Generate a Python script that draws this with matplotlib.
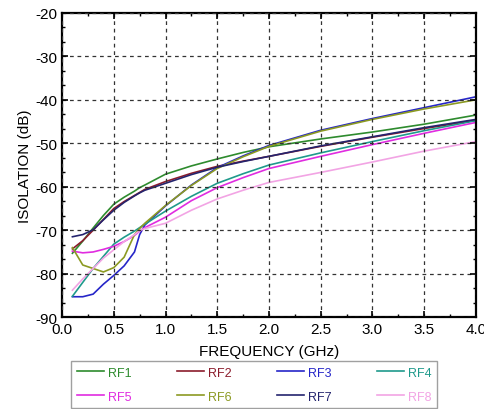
import numpy as np
from matplotlib import pyplot as plt
from matplotlib.ticker import MultipleLocator

plt.rcParams['font.family'] = ['Liberation Sans', 'DejaVu Sans']
plt.rcParams['axes.unicode_minus'] = False

#---------------------    datos
frecuencia = [0.1, 0.2, 0.3, 0.4, 0.5, 0.6, 0.7, 0.75, 0.8, 1.0, 1.25, 1.5, 1.75, 2.0, 2.5, 3.0, 3.5, 4.0]

rf1 = [-75.3, -72.5, -69.5, -66.6, -64.0, -62.4, -61.0, -60.2, -59.6, -57.1, -55.2, -53.6, -52.1, -50.8, -49.0, -47.4, -45.6, -43.5]
rf2 = [-74.3, -72.4, -70.0, -67.5, -65.0, -63.4, -62.0, -61.3, -60.6, -58.8, -56.9, -55.3, -54.1, -53.0, -50.7, -48.6, -46.6, -44.7]
rf3 = [-85.3, -85.3, -84.7, -82.4, -80.4, -78.2, -75.0, -71.0, -68.8, -64.4, -59.6, -55.6, -52.9, -50.5, -47.0, -44.3, -41.8, -39.3]
rf4 = [-85.2, -82.0, -78.8, -76.0, -73.2, -71.6, -70.2, -69.4, -68.6, -65.6, -62.2, -59.2, -57.0, -55.0, -52.2, -49.6, -47.1, -44.8]
rf5 = [-74.8, -75.2, -75.0, -74.4, -73.7, -72.6, -71.2, -70.2, -69.4, -67.0, -63.2, -60.2, -57.9, -55.8, -53.0, -50.3, -47.7, -45.2]
rf6 = [-74.0, -78.0, -78.8, -79.6, -78.6, -76.2, -71.0, -69.6, -68.4, -64.3, -59.7, -55.8, -53.1, -50.7, -47.2, -44.5, -42.1, -40.0]
rf7 = [-71.5, -71.0, -69.9, -67.6, -65.4, -63.6, -62.1, -61.4, -60.8, -59.2, -57.2, -55.5, -54.2, -53.0, -50.6, -48.5, -46.4, -44.5]
rf8 = [-83.8, -81.2, -78.8, -76.4, -74.5, -72.6, -71.0, -70.1, -69.6, -68.4, -65.4, -62.8, -60.8, -59.0, -56.7, -54.3, -51.8, -49.6]

series = [rf1, rf2, rf3, rf4, rf5, rf6, rf7, rf8]
etiquetas = ["RF1", "RF2", "RF3", "RF4", "RF5", "RF6", "RF7", "RF8"]
colores = ["#2e8b2e", "#8b1c2c", "#2626c8", "#1f9a8c", "#e02ce0", "#8c9a22", "#24246e", "#f2a4e4"]

#---------------------    grafica
miFigura = plt.figure(figsize=[4.85, 4.10], dpi=100)
ejes = miFigura.add_axes([0.128, 0.224, 0.853, 0.742])

lineas = []
for datos, etiqueta, color in zip(series, etiquetas, colores):
    linea, = ejes.plot(frecuencia, datos, color=color, linewidth=1.2, label=etiqueta)
    lineas.append(linea)

ejes.set_xlim(0, 4)
ejes.set_ylim(-90, -20)
ejes.xaxis.set_major_locator(MultipleLocator(0.5))
ejes.xaxis.set_minor_locator(MultipleLocator(0.25))
ejes.yaxis.set_major_locator(MultipleLocator(10))
ejes.yaxis.set_minor_locator(MultipleLocator(10 / 3))
ejes.tick_params(which='both', direction='in', top=True, right=True, labelsize=11)
ejes.tick_params(which='major', length=4, width=1.2)
ejes.tick_params(which='minor', length=2.5, width=1)
ejes.xaxis.set_major_formatter(plt.FormatStrFormatter('%.1f'))
for lado in ejes.spines.values():
    lado.set_linewidth(1.6)

ejes.grid(True, which='major', color='#333333', linestyle=(0, (3, 3)), linewidth=0.9)
for linea in ejes.get_ygridlines():
    if abs(linea.get_ydata()[0] + 70) < 0.1:
        linea.set_color('#d8d8d8')
ejes.set_axisbelow(False)

ejes.set_xlabel("FREQUENCY (GHz)", fontsize=11, labelpad=6)
ejes.set_ylabel("ISOLATION (dB)", fontsize=11, labelpad=2)

# la leyenda va por filas: RF1..RF4 arriba, RF5..RF8 abajo
orden = [0, 4, 1, 5, 2, 6, 3, 7]
leyenda = miFigura.legend([lineas[i] for i in orden], [etiquetas[i] for i in orden],
                          loc='upper center', bbox_to_anchor=(0.524, 0.132), ncol=4,
                          fontsize=9, frameon=True, fancybox=False, edgecolor='#888888',
                          handlelength=2.2, handletextpad=0.3, columnspacing=3.6,
                          labelspacing=0.95, borderpad=0.45)
leyenda.get_frame().set_linewidth(1.0)
for texto, i in zip(leyenda.get_texts(), orden):
    texto.set_color(colores[i])

miFigura.savefig("out.png", dpi=100)
